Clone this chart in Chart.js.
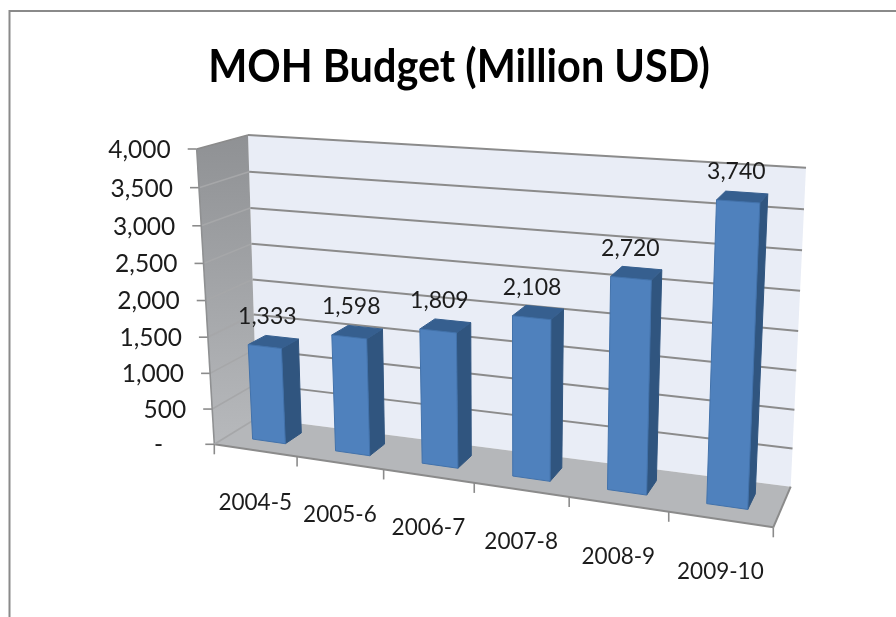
<!DOCTYPE html>
<html>
<head>
<meta charset="utf-8">
<title>MOH Budget</title>
<script src="https://cdn.jsdelivr.net/npm/chart.js@4/dist/chart.umd.min.js"></script>
<style>
  html, body { margin: 0; padding: 0; background: #fff; overflow: hidden; }
  canvas { display: block; }
</style>
</head>
<body>
<canvas id="budgetChart" width="896" height="617"></canvas>
<script>
'use strict';

// ============================================================
// DATA
// ============================================================
const years = ['2004-5', '2005-6', '2006-7', '2007-8', '2008-9', '2009-10'];
const budget = [1333, 1598, 1809, 2108, 2720, 3740];
const axisMax = 4000;
const axisStep = 500;

// ============================================================
// 3D BOX: corners of the chart box on screen, [x, y]
// ============================================================
const frontPlane = { bl: [214.3, 444.3], br: [773.3, 527.3], tr: [788, 190], tl: [196.7, 149] };
const backPlane  = { bl: [257, 418],     br: [790.7, 486.7], tr: [806, 167.7], tl: [248, 135] };
const barDepth = { front: 0.33, back: 0.72 };

const FONT = 'Lato, Carlito, "Open Sans", sans-serif';
const TEXT = '#1c1c1c';
const GRID = '#8b8b8b';
const TITLE_SQUEEZE = 0.9;

// unit square -> quad, returns function (u,v) => [x,y]
function quadMap(q) {
  const [x0, y0] = q.bl, [x1, y1] = q.br, [x2, y2] = q.tr, [x3, y3] = q.tl;
  const dx1 = x1 - x2, dx2 = x3 - x2, sx = x0 - x1 + x2 - x3;
  const dy1 = y1 - y2, dy2 = y3 - y2, sy = y0 - y1 + y2 - y3;
  const den = dx1 * dy2 - dx2 * dy1;
  const g = (sx * dy2 - dx2 * sy) / den;
  const h = (dx1 * sy - sx * dy1) / den;
  const a = x1 - x0 + g * x1, b = x3 - x0 + h * x3;
  const d = y1 - y0 + g * y1, e = y3 - y0 + h * y3;
  return (u, v) => {
    const t = g * u + h * v + 1;
    return [(a * u + b * v + x0) / t, (d * u + e * v + y0) / t];
  };
}
const mapFront = quadMap(frontPlane);
const mapBack = quadMap(backPlane);

// u: along categories, v: up the value axis, w: 0 front .. 1 back
function project(u, v, w) {
  const f = mapFront(u, v), b = mapBack(u, v);
  return [f[0] + (b[0] - f[0]) * w, f[1] + (b[1] - f[1]) * w];
}

function poly(ctx, pts, fill, stroke) {
  ctx.beginPath();
  pts.forEach((p, i) => i ? ctx.lineTo(p[0], p[1]) : ctx.moveTo(p[0], p[1]));
  ctx.closePath();
  if (fill) { ctx.fillStyle = fill; ctx.fill(); }
  if (stroke) { ctx.strokeStyle = stroke; ctx.lineWidth = 1; ctx.stroke(); }
}

function segment(ctx, a, b, color, width) {
  ctx.beginPath();
  ctx.moveTo(a[0], a[1]);
  ctx.lineTo(b[0], b[1]);
  ctx.strokeStyle = color;
  ctx.lineWidth = width;
  ctx.stroke();
}

// ============================================================
// PLUGIN: draws walls, floor, axes and bars in perspective
// ============================================================
const perspectiveBars = {
  id: 'perspectiveBars',
  afterLayout(chart) {
    // title font runs narrower than the installed one, squeeze it around its centre
    const block = chart.titleBlock;
    if (block.squeezed) return;
    const drawTitle = block.draw.bind(block);
    block.draw = () => {
      const ctx = chart.ctx;
      const cx = block.left + block.width / 2;
      ctx.save();
      ctx.translate(cx, 0);
      ctx.scale(TITLE_SQUEEZE, 1);
      ctx.translate(-cx, 0);
      drawTitle();
      ctx.restore();
    };
    block.squeezed = true;
  },
  beforeDraw(chart) {
    const ctx = chart.ctx;
    // outer chart border, only top and left reach the page
    ctx.save();
    ctx.beginPath();
    ctx.moveTo(9.5, 617);
    ctx.lineTo(9.5, 11);
    ctx.lineTo(896, 11);
    ctx.strokeStyle = '#8a8a8a';
    ctx.lineWidth = 2;
    ctx.stroke();
    ctx.restore();
  },
  beforeDatasetsDraw(chart) {
    const ctx = chart.ctx;
    const area = chart.chartArea;
    const xs = chart.scales.x, ys = chart.scales.y;
    const toU = px => (px - area.left) / area.width;
    const toV = py => (area.bottom - py) / area.height;

    ctx.save();

    // back wall
    poly(ctx, [project(0, 0, 1), project(1, 0, 1), project(1, 1, 1), project(0, 1, 1)], '#e9edf6');

    // left wall
    const wallGrad = ctx.createLinearGradient(0, project(0, 1, 1)[1], 0, project(0, 0, 0)[1]);
    wallGrad.addColorStop(0, '#8f9194');
    wallGrad.addColorStop(1, '#b7b9bc');
    poly(ctx, [project(0, 0, 0), project(0, 0, 1), project(0, 1, 1), project(0, 1, 0)], wallGrad);

    // gridlines and value labels
    ctx.font = '24.5px ' + FONT;
    ctx.fillStyle = TEXT;
    ctx.textAlign = 'right';
    ctx.textBaseline = 'middle';
    ys.ticks.forEach((tick, i) => {
      const v = toV(ys.getPixelForTick(i));
      const front = project(0, v, 0);
      const corner = project(0, v, 1);
      if (v > 0) {
        segment(ctx, corner, project(1, v, 1), GRID, 2);
        segment(ctx, front, corner, v < 1 ? '#a6a7a9' : GRID, 1.6);
      }
      segment(ctx, [front[0] - 9, front[1]], front, GRID, 1.6);
      ctx.fillText(tick.label, front[0] - 26, front[1] + 1);
    });

    // floor
    poly(ctx, [project(0, 0, 0), project(1, 0, 0), project(1, 0, 1), project(0, 0, 1)], '#b5b7ba');
    segment(ctx, project(0, 1, 0), project(0, 0, 0), '#8f9092', 1.6);
    segment(ctx, project(0, 0, 0), project(1, 0, 0), GRID, 2);
    segment(ctx, project(1, 0, 0), project(1, 0, 1), GRID, 2);
    segment(ctx, project(0, 0, 0), project(0, 0, 1), '#a6a7a9', 1.6);

    // category ticks and labels
    const band = xs.getPixelForValue(1) - xs.getPixelForValue(0);
    ctx.font = '22.5px ' + FONT;
    ctx.fillStyle = TEXT;
    ctx.textAlign = 'center';
    years.forEach((label, i) => {
      const cx = xs.getPixelForValue(i);
      const left = project(toU(cx - band / 2), 0, 0);
      segment(ctx, left, [left[0], left[1] + 10], GRID, 1.6);
      const mid = project(toU(cx), 0, 0);
      ctx.fillText(label, mid[0], mid[1] + 52);
    });
    const last = project(1, 0, 0);
    segment(ctx, last, [last[0], last[1] + 10], GRID, 1.6);

    // bars, positions come from the bar elements chart.js laid out
    const { front: wf, back: wb } = barDepth;
    chart.getDatasetMeta(0).data.forEach((bar, i) => {
      const u0 = toU(bar.x - bar.width / 2), u1 = toU(bar.x + bar.width / 2);
      const v0 = toV(bar.base), v1 = toV(bar.y);
      poly(ctx, [project(u1, v0, wf), project(u1, v0, wb), project(u1, v1, wb), project(u1, v1, wf)], '#30557f', '#30557f');
      poly(ctx, [project(u0, v1, wf), project(u1, v1, wf), project(u1, v1, wb), project(u0, v1, wb)], '#365f8f', '#365f8f');
      poly(ctx, [project(u0, v0, wf), project(u1, v0, wf), project(u1, v1, wf), project(u0, v1, wf)], '#4f81bd', '#4272ab');

      // value label above the bar
      const top = project(toU(bar.x), v1, (wf + wb) / 2);
      ctx.font = '23px ' + FONT;
      ctx.fillStyle = TEXT;
      ctx.textAlign = 'center';
      ctx.fillText(budget[i].toLocaleString('en-US'), top[0] - 6, top[1] - 25);
    });

    ctx.restore();
    return false;
  }
};

// ============================================================
// CHART
// ============================================================
new Chart(document.getElementById('budgetChart').getContext('2d'), {
  type: 'bar',
  data: {
    labels: years,
    datasets: [{ label: 'MOH Budget', data: budget, categoryPercentage: 1, barPercentage: 0.4 }]
  },
  options: {
    responsive: false,
    animation: false,
    layout: { padding: { left: 22, right: 0, top: 40, bottom: 20 } },
    plugins: {
      legend: { display: false },
      tooltip: { enabled: false },
      title: {
        display: true,
        text: 'MOH Budget (Million USD)',
        color: '#000',
        font: { family: FONT, size: 46, weight: 'bold' },
        padding: { top: 0, bottom: 10 }
      }
    },
    scales: {
      x: { display: false },
      y: {
        display: false,
        min: 0,
        max: axisMax,
        ticks: {
          stepSize: axisStep,
          callback: v => v === 0 ? '-    ' : v.toLocaleString('en-US')
        }
      }
    }
  },
  plugins: [perspectiveBars]
});
</script>
</body>
</html>
